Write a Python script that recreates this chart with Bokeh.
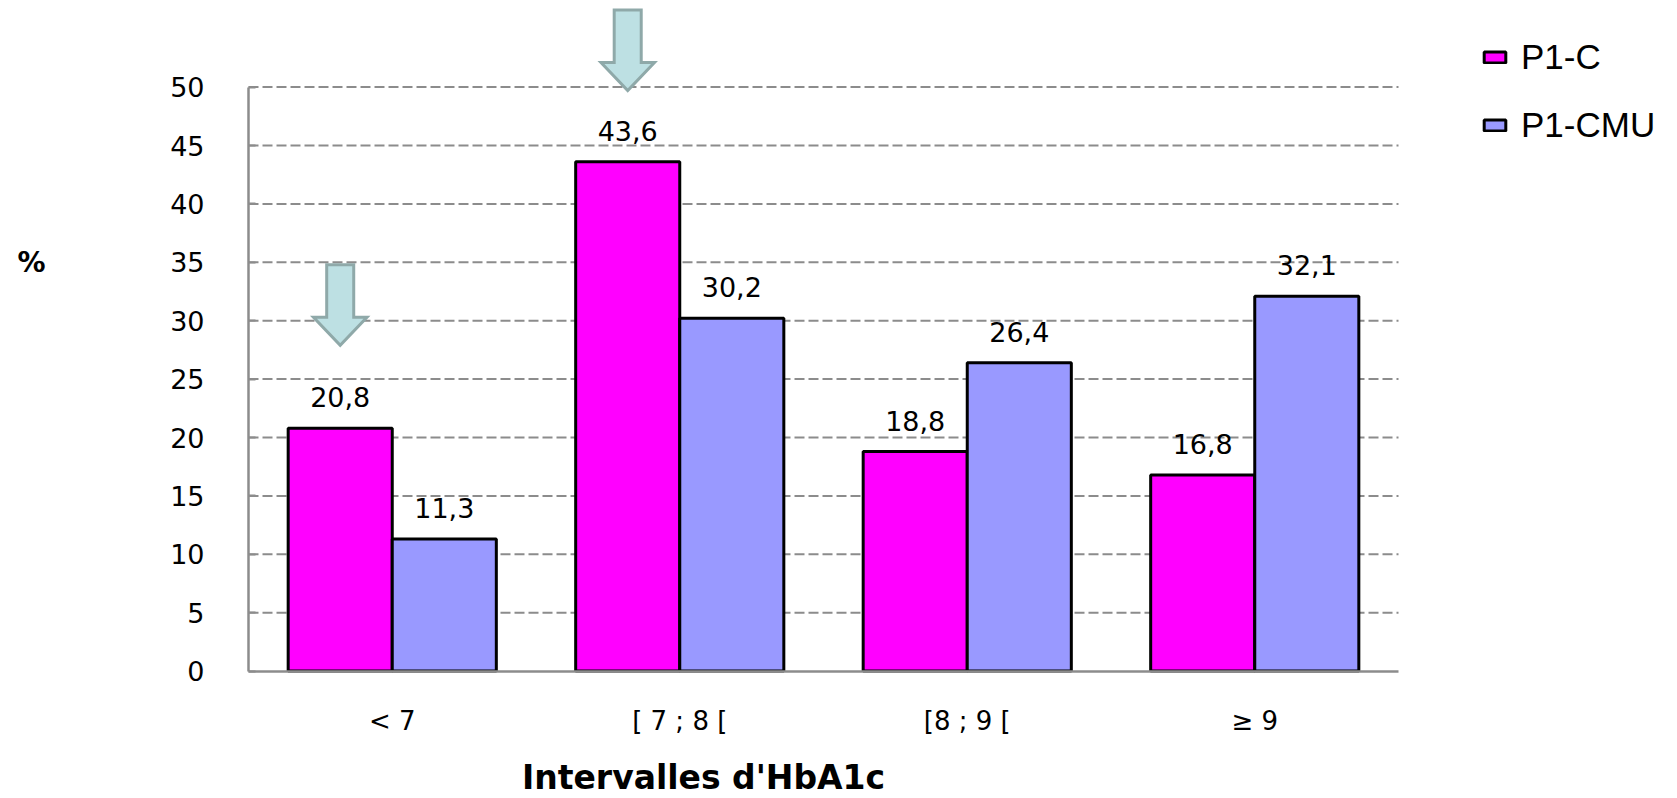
from bokeh.plotting import figure
from bokeh.models import (Range1d, FixedTicker, Legend, LegendItem, Label, ColumnDataSource)
from bokeh.embed import file_html
from bokeh.resources import INLINE
from bokeh.core.properties import value

# ---- data ----
categories = ["< 7", "[ 7 ; 8 [", "[8 ; 9 [", "\u2265 9"]
p1_c = [20.8, 43.6, 18.8, 16.8]
p1_cmu = [11.3, 30.2, 26.4, 32.1]
series_names = ["P1-C", "P1-CMU"]
y_ticks = [0, 5, 10, 15, 20, 25, 30, 35, 40, 45, 50]
# highlight arrows: category index (over P1-C bar) and tip value
arrow_cats = [0, 1]
arrow_tips = [27.9, 49.7]

# ---- styles ----
MAGENTA = "#FF00FF"
LAVENDER = "#9999FF"
GRID = "#8C8C8C"
NUM_FONT = "DejaVu Sans"

W, H = 1677, 798
X0_PX, PX_PER_CAT = 248, 287.5      # screen position of x=0, pixels per category
Y0_PX, PX_PER_UNIT = 670.6, 11.68   # screen position of y=0, pixels per percent

n = len(categories)
bar_w = 0.362
off = bar_w / 2

p = figure(width=W, height=H, output_backend="svg", toolbar_location=None,
           x_range=Range1d(-X0_PX / PX_PER_CAT, (W - X0_PX) / PX_PER_CAT),
           y_range=Range1d(-(H - Y0_PX) / PX_PER_UNIT, Y0_PX / PX_PER_UNIT),
           min_border_left=0, min_border_right=0, min_border_top=0, min_border_bottom=0)
p.outline_line_color = None
p.xgrid.visible = False
p.ygrid.visible = False

# dashed gridlines spanning only the category area
grid_vals = [t for t in y_ticks if t > 0]
p.segment(x0=[0] * len(grid_vals), x1=[n] * len(grid_vals), y0=grid_vals, y1=grid_vals,
          line_color=GRID, line_width=2, line_dash="10 4")

xs = [i + 0.5 for i in range(n)]
src = ColumnDataSource(dict(
    x1=[x - off for x in xs], x2=[x + off for x in xs],
    c=p1_c, m=p1_cmu,
    lc=[f"{v:.1f}".replace(".", ",") for v in p1_c],
    lm=[f"{v:.1f}".replace(".", ",") for v in p1_cmu],
))
r1 = p.vbar(x="x1", top="c", width=bar_w, source=src, fill_color=MAGENTA,
            line_color="black", line_width=3)
r2 = p.vbar(x="x2", top="m", width=bar_w, source=src, fill_color=LAVENDER,
            line_color="black", line_width=3)

for xcol, lcol, ycol in (("x1", "lc", "c"), ("x2", "lm", "m")):
    p.text(x=xcol, y=ycol, text=lcol, source=src, text_align="center",
           text_baseline="alphabetic", y_offset=-31, text_font=value(NUM_FONT),
           text_font_size="27px", text_color="black")

# block arrows above highlighted bars
shaft_hw, head_hw, head_h, length = 0.047, 0.093, 2.4, 6.9
axs, ays = [], []
for ci, tip in zip(arrow_cats, arrow_tips):
    cx = ci + 0.5 - off
    axs.append([cx - shaft_hw, cx + shaft_hw, cx + shaft_hw, cx + head_hw, cx,
                cx - head_hw, cx - shaft_hw])
    ays.append([tip + length, tip + length, tip + head_h, tip + head_h, tip,
                tip + head_h, tip + head_h])
p.patches(xs=axs, ys=ays, fill_color="#BDE0E3", line_color="#8FA9A9", line_width=3,
          line_join="miter")

# axes (fixed at the data origin)
yax = p.yaxis[0]
yax.fixed_location = 0
yax.ticker = FixedTicker(ticks=y_ticks)
yax.bounds = (0, 50)
yax.axis_line_color = GRID
yax.axis_line_width = 2.5
yax.major_tick_line_color = GRID
yax.major_tick_line_width = 2
yax.major_tick_in = 7
yax.major_tick_out = 0
yax.minor_tick_line_color = None
yax.major_label_standoff = 44
yax.major_label_text_font = NUM_FONT
yax.major_label_text_font_size = "27px"
yax.major_label_text_color = "black"

xax = p.xaxis[0]
xax.fixed_location = 0
xax.ticker = FixedTicker(ticks=xs)
xax.major_label_overrides = {x: c for x, c in zip(xs, categories)}
xax.bounds = (0, n)
xax.axis_line_color = GRID
xax.axis_line_width = 2.5
xax.major_tick_line_color = None
xax.minor_tick_line_color = None
xax.major_tick_out = 0
xax.major_tick_in = 0
xax.major_label_standoff = 35
xax.major_label_text_font = NUM_FONT
xax.major_label_text_font_size = "26px"
xax.major_label_text_color = "black"

p.add_layout(Label(x=(31 - X0_PX) / PX_PER_CAT, y=(Y0_PX - 262) / PX_PER_UNIT, text="%",
                   text_align="center", text_baseline="middle",
                   text_font=NUM_FONT, text_font_style="bold", text_font_size="28px",
                   text_color="black"))
p.add_layout(Label(x=(703 - X0_PX) / PX_PER_CAT, y=(Y0_PX - 777) / PX_PER_UNIT,
                   text="Intervalles d'HbA1c", text_align="center",
                   text_baseline="middle", text_font=NUM_FONT, text_font_style="bold",
                   text_font_size="33px", text_color="black"))

legend = Legend(items=[LegendItem(label=series_names[0], renderers=[r1]),
                       LegendItem(label=series_names[1], renderers=[r2])],
                location=(1481, 653), padding=0, margin=0, spacing=28,
                glyph_width=27, glyph_height=14, label_height=40, label_standoff=13,
                label_text_font="Liberation Sans", label_text_font_size="35px",
                label_text_color="black",
                label_text_baseline="middle", border_line_color=None,
                background_fill_alpha=0)
p.add_layout(legend)

open("out.html", "w").write(file_html(p, INLINE))
